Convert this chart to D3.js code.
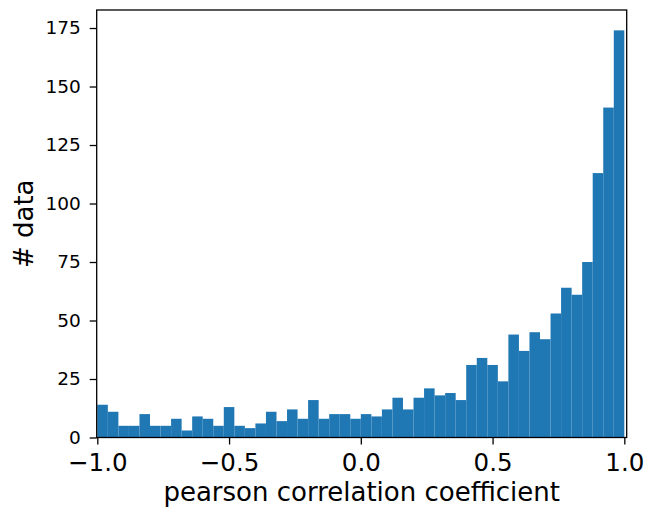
<!DOCTYPE html>
<html>
<head>
<meta charset="utf-8">
<script src="https://cdn.jsdelivr.net/npm/d3@7"></script>
<style>
  html, body { margin: 0; padding: 0; background: #fff; }
  svg { display: block; }
  text { font-family: "DejaVu Sans", sans-serif; fill: #000; }
</style>
</head>
<body>
<svg id="chart" width="646" height="508"></svg>
<script>
// Histogram of Pearson correlation coefficients: 50 bins of width 0.04 over [-1, 1]
const binStart = -1.0;
const binWidth = 0.04;
const counts = [
  14, 11, 5, 5, 10, 5, 5, 8, 3, 9,
  8, 5, 13, 5, 4, 6, 11, 7, 12, 8,
  16, 8, 10, 10, 8, 10, 9, 12, 17, 12,
  17, 21, 18, 19, 16, 31, 34, 31, 24, 44,
  37, 45, 42, 53, 64, 61, 75, 113, 141, 174
];
const xTicks = [-1.0, -0.5, 0.0, 0.5, 1.0];
const yTicks = [0, 25, 50, 75, 100, 125, 150, 175];
const xLabel = "pearson correlation coefficient";
const yLabel = "# data";

const plot = { left: 96.7, right: 626.7, top: 10, bottom: 437.5 };
const svg = d3.select("#chart");

const x = d3.scaleLinear().domain([-1.0023, 1.009]).range([plot.left, plot.right]);
const yMax = d3.max(counts) * 1.05;
const y = d3.scaleLinear().domain([0, yMax]).range([plot.bottom, plot.top]);

const bins = counts.map((c, i) => ({
  x0: binStart + i * binWidth,
  x1: binStart + (i + 1) * binWidth,
  count: c
}));

// bars
svg.append("g")
  .selectAll("rect")
  .data(bins)
  .join("rect")
  .attr("x", d => x(d.x0))
  .attr("width", d => x(d.x1) - x(d.x0))
  .attr("y", d => y(d.count))
  .attr("height", d => y(0) - y(d.count))
  .attr("fill", "#1f77b4");

const fmtX = d => d3.format(".1f")(d).replace("-", "\u2212");

// x axis
const xAxis = svg.append("g")
  .attr("transform", `translate(0,${plot.bottom})`)
  .call(d3.axisBottom(x).tickValues(xTicks).tickFormat(fmtX).tickSizeOuter(0).tickSize(7).tickPadding(9));
xAxis.select(".domain").remove();
xAxis.selectAll(".tick line").attr("stroke", "#000").attr("stroke-width", 1.3);
xAxis.selectAll(".tick text").style("font-size", "24.5px").attr("fill", "#000");

// y axis
const yAxis = svg.append("g")
  .attr("transform", `translate(${plot.left},0)`)
  .call(d3.axisLeft(y).tickValues(yTicks).tickFormat(d3.format("d")).tickSizeOuter(0).tickSize(7).tickPadding(9));
yAxis.select(".domain").remove();
yAxis.selectAll(".tick line").attr("stroke", "#000").attr("stroke-width", 1.3);
yAxis.selectAll(".tick text").style("font-size", "18.5px").attr("fill", "#000");

// frame
svg.append("rect")
  .attr("x", plot.left)
  .attr("y", plot.top)
  .attr("width", plot.right - plot.left)
  .attr("height", plot.bottom - plot.top)
  .attr("fill", "none")
  .attr("stroke", "#000")
  .attr("stroke-width", 1.3);

// axis titles
svg.append("text")
  .attr("x", (plot.left + plot.right) / 2)
  .attr("y", 501)
  .attr("text-anchor", "middle")
  .style("font-size", "26px")
  .text(xLabel);

svg.append("text")
  .attr("transform", `translate(32.5,${(plot.top + plot.bottom) / 2}) rotate(-90)`)
  .attr("text-anchor", "middle")
  .style("font-size", "26px")
  .text(yLabel);
</script>
</body>
</html>
